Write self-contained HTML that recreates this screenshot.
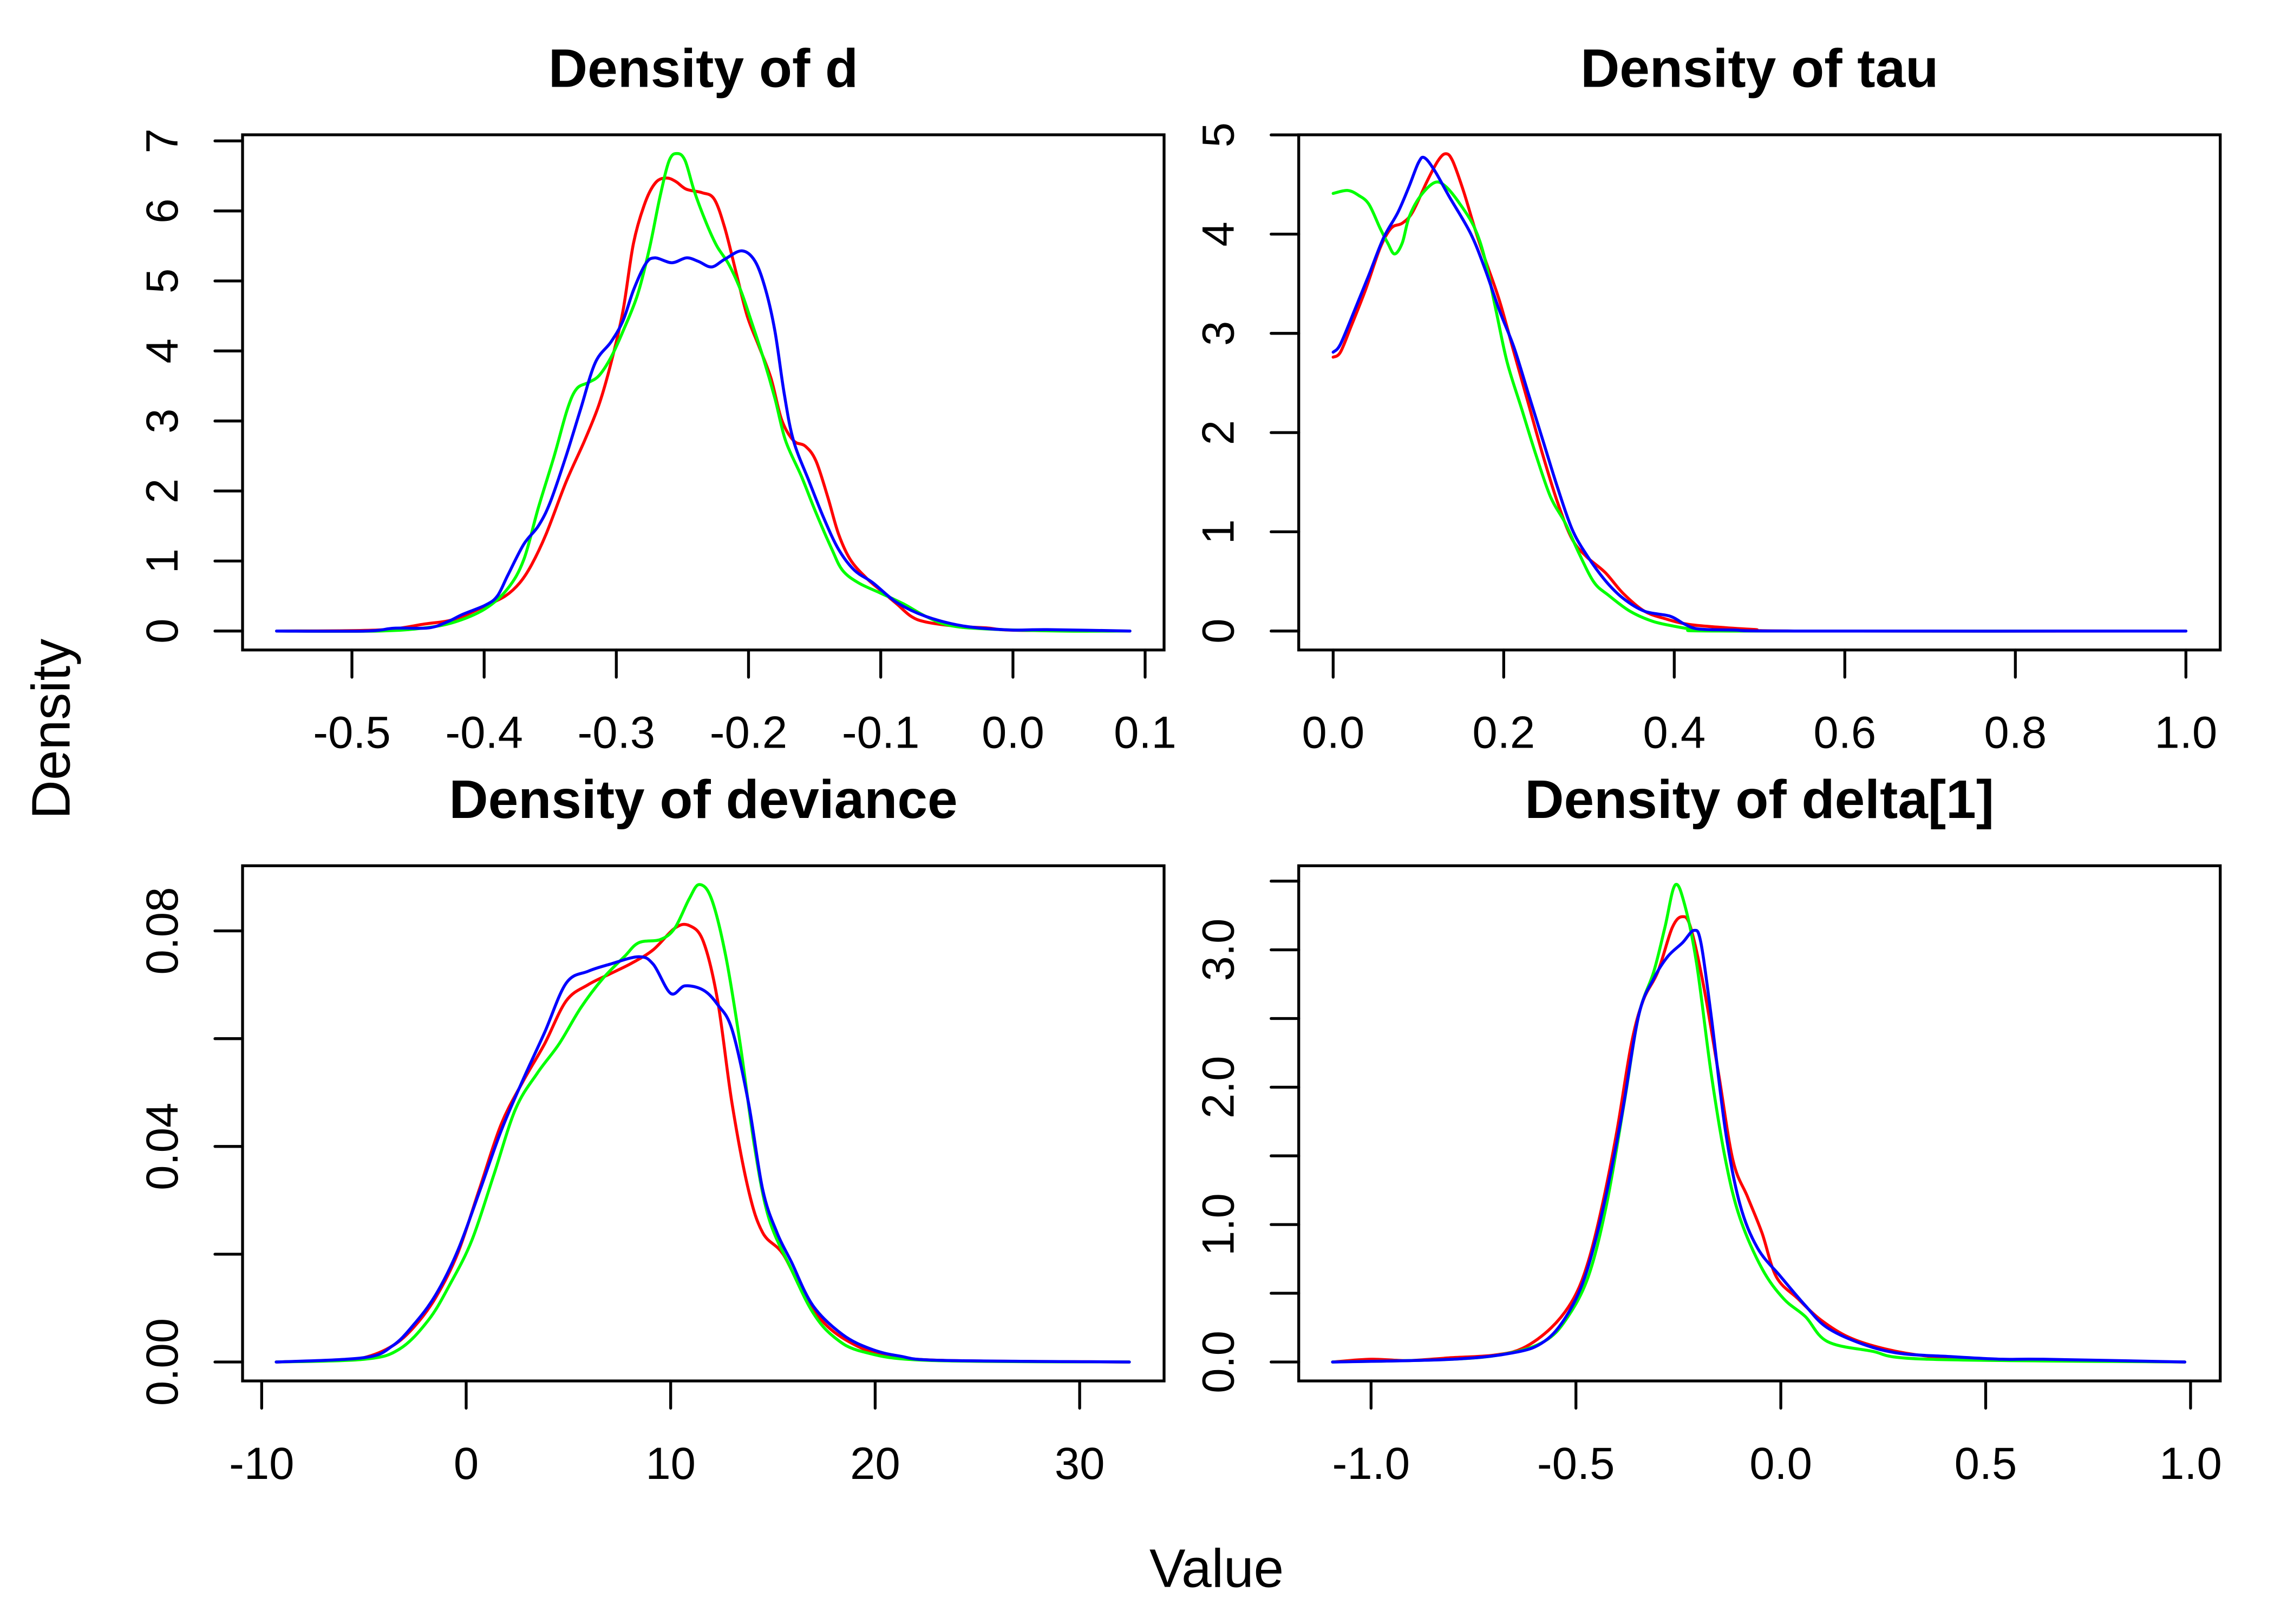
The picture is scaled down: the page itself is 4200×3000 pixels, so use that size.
<!DOCTYPE html>
<html>
<head>
<meta charset="utf-8">
<style>
html,body{margin:0;padding:0;background:#fff;}
svg{display:block;}
text{font-family:"Liberation Sans",Arial,sans-serif;fill:#000;}
.c{fill:none;stroke-width:5.5;stroke-linejoin:round;stroke-linecap:round;vector-effect:non-scaling-stroke;}
.r{stroke:#FF0000;}
.g{stroke:#00FF00;}
.b{stroke:#0000FF;}
.box{fill:none;stroke:#000;stroke-width:5.3;}
.tk{stroke:#000;stroke-width:5.3;stroke-linecap:round;}
.tl{font-size:83.3px;}
.ti{font-size:100px;font-weight:bold;}
.ol{font-size:100px;}
</style>
</head>
<body>
<svg width="4200" height="3000" viewBox="0 0 4200 3000" xmlns="http://www.w3.org/2000/svg">
<rect x="0" y="0" width="4200" height="3000" fill="#fff"/>

<!-- ========== Panel TL: Density of d ========== -->
<text class="ti" x="1299" y="160.7" text-anchor="middle">Density of d</text>
<g transform="matrix(2441.7 0 0 -129.34 1870.85 1165.7)">
<polyline class="c r" points="-0.557,0 -0.48,0.015 -0.445,0.1 -0.422,0.17 -0.399,0.36 -0.384,0.5 -0.373,0.69 -0.364,0.95 -0.353,1.39 -0.338,2.13 -0.324,2.72 -0.313,3.24 -0.304,3.83 -0.295,4.57 -0.287,5.54 -0.278,6.13 -0.270,6.41 -0.262,6.47 -0.255,6.42 -0.247,6.31 -0.235,6.26 -0.226,6.17 -0.218,5.76 -0.209,5.09 -0.201,4.5 -0.192,4.06 -0.183,3.61 -0.175,3.02 -0.166,2.72 -0.157,2.64 -0.149,2.43 -0.140,1.91 -0.132,1.39 -0.123,1.02 -0.111,0.76 -0.1,0.58 -0.088,0.39 -0.077,0.21 -0.066,0.13 -0.043,0.07 -0.02,0.045 0.003,0.01 0.0885,0"/>
<polyline class="c g" points="-0.557,0 -0.48,0 -0.445,0.045 -0.422,0.13 -0.399,0.32 -0.382,0.61 -0.370,1.02 -0.359,1.76 -0.347,2.5 -0.337,3.17 -0.330,3.46 -0.321,3.55 -0.313,3.65 -0.304,3.91 -0.295,4.28 -0.284,4.8 -0.275,5.46 -0.267,6.2 -0.260,6.72 -0.254,6.82 -0.248,6.72 -0.241,6.28 -0.232,5.83 -0.224,5.5 -0.215,5.24 -0.206,4.87 -0.198,4.43 -0.189,3.91 -0.180,3.32 -0.172,2.72 -0.160,2.21 -0.149,1.69 -0.137,1.17 -0.129,0.87 -0.117,0.69 -0.1,0.54 -0.083,0.39 -0.066,0.21 -0.048,0.08 -0.02,0.03 0.037,0 0.0885,0"/>
<polyline class="c b" points="-0.557,0 -0.49,0 -0.468,0.04 -0.442,0.045 -0.428,0.13 -0.416,0.24 -0.399,0.37 -0.390,0.5 -0.382,0.8 -0.370,1.24 -0.359,1.5 -0.350,1.84 -0.338,2.5 -0.327,3.17 -0.316,3.83 -0.304,4.13 -0.295,4.43 -0.287,4.87 -0.278,5.24 -0.271,5.33 -0.258,5.26 -0.247,5.33 -0.238,5.28 -0.228,5.2 -0.218,5.31 -0.205,5.43 -0.195,5.28 -0.187,4.87 -0.180,4.28 -0.173,3.39 -0.166,2.72 -0.154,2.13 -0.143,1.61 -0.132,1.17 -0.120,0.87 -0.106,0.69 -0.088,0.41 -0.066,0.21 -0.037,0.07 -0.002,0.015 0.026,0.02 0.0885,0"/>
</g>
<rect class="box" x="448" y="249" width="1702" height="951.7"/>
<g class="tk">
<line x1="650" y1="1200.7" x2="650" y2="1251"/>
<line x1="894.2" y1="1200.7" x2="894.2" y2="1251"/>
<line x1="1138.3" y1="1200.7" x2="1138.3" y2="1251"/>
<line x1="1382.5" y1="1200.7" x2="1382.5" y2="1251"/>
<line x1="1626.7" y1="1200.7" x2="1626.7" y2="1251"/>
<line x1="1870.9" y1="1200.7" x2="1870.9" y2="1251"/>
<line x1="2115" y1="1200.7" x2="2115" y2="1251"/>
<line x1="448" y1="1165.7" x2="397" y2="1165.7"/>
<line x1="448" y1="1036.4" x2="397" y2="1036.4"/>
<line x1="448" y1="907" x2="397" y2="907"/>
<line x1="448" y1="777.7" x2="397" y2="777.7"/>
<line x1="448" y1="648.3" x2="397" y2="648.3"/>
<line x1="448" y1="519" x2="397" y2="519"/>
<line x1="448" y1="389.7" x2="397" y2="389.7"/>
<line x1="448" y1="260.3" x2="397" y2="260.3"/>
</g>
<g class="tl" text-anchor="middle">
<text x="650" y="1381.7">-0.5</text>
<text x="894.2" y="1381.7">-0.4</text>
<text x="1138.3" y="1381.7">-0.3</text>
<text x="1382.5" y="1381.7">-0.2</text>
<text x="1626.7" y="1381.7">-0.1</text>
<text x="1870.9" y="1381.7">0.0</text>
<text x="2115" y="1381.7">0.1</text>
<text transform="translate(328 1165.7) rotate(-90)">0</text>
<text transform="translate(328 1036.4) rotate(-90)">1</text>
<text transform="translate(328 907) rotate(-90)">2</text>
<text transform="translate(328 777.7) rotate(-90)">3</text>
<text transform="translate(328 648.3) rotate(-90)">4</text>
<text transform="translate(328 519) rotate(-90)">5</text>
<text transform="translate(328 389.7) rotate(-90)">6</text>
<text transform="translate(328 260.3) rotate(-90)">7</text>
</g>

<!-- ========== Panel TR: Density of tau ========== -->
<text class="ti" x="3249.7" y="160.7" text-anchor="middle">Density of tau</text>
<g transform="matrix(1575 0 0 -183.3 2462.3 1165.7)">
<polyline class="c r" points="0,2.76 0.0085,2.81 0.021,3.07 0.038,3.44 0.055,3.86 0.068,4.06 0.081,4.11 0.093,4.22 0.110,4.53 0.123,4.74 0.132,4.81 0.140,4.74 0.153,4.43 0.166,4.06 0.178,3.75 0.195,3.33 0.212,2.81 0.229,2.29 0.246,1.77 0.263,1.3 0.280,0.93 0.297,0.75 0.319,0.59 0.340,0.38 0.365,0.2 0.391,0.12 0.416,0.068 0.45,0.04 0.493,0.016 0.55,0 1,0"/>
<polyline class="c g" points="0,4.41 0.017,4.44 0.030,4.39 0.042,4.3 0.055,4.06 0.064,3.91 0.072,3.8 0.081,3.91 0.089,4.17 0.102,4.38 0.119,4.52 0.132,4.48 0.149,4.3 0.166,4.06 0.178,3.75 0.191,3.23 0.204,2.71 0.221,2.24 0.238,1.77 0.255,1.35 0.272,1.09 0.289,0.77 0.306,0.49 0.323,0.36 0.348,0.2 0.374,0.1 0.399,0.05 0.425,0.016 0.47,0 1,0"/>
<polyline class="c b" points="0,2.81 0.0085,2.89 0.025,3.23 0.042,3.59 0.059,3.96 0.076,4.22 0.089,4.48 0.100,4.72 0.107,4.77 0.119,4.64 0.136,4.38 0.161,4.01 0.178,3.65 0.195,3.23 0.212,2.86 0.229,2.39 0.246,1.92 0.263,1.45 0.280,1.03 0.297,0.77 0.319,0.51 0.340,0.33 0.365,0.2 0.395,0.15 0.412,0.07 0.429,0.02 0.47,0.01 0.54,0 1,0"/>
</g>
<rect class="box" x="2398.7" y="249" width="1702" height="951.7"/>
<g class="tk">
<line x1="2462.3" y1="1200.7" x2="2462.3" y2="1251"/>
<line x1="2777.3" y1="1200.7" x2="2777.3" y2="1251"/>
<line x1="3092.3" y1="1200.7" x2="3092.3" y2="1251"/>
<line x1="3407.3" y1="1200.7" x2="3407.3" y2="1251"/>
<line x1="3722.3" y1="1200.7" x2="3722.3" y2="1251"/>
<line x1="4037.3" y1="1200.7" x2="4037.3" y2="1251"/>
<line x1="2398.7" y1="1165.7" x2="2347.7" y2="1165.7"/>
<line x1="2398.7" y1="982.4" x2="2347.7" y2="982.4"/>
<line x1="2398.7" y1="799.1" x2="2347.7" y2="799.1"/>
<line x1="2398.7" y1="615.8" x2="2347.7" y2="615.8"/>
<line x1="2398.7" y1="432.5" x2="2347.7" y2="432.5"/>
<line x1="2398.7" y1="249.2" x2="2347.7" y2="249.2"/>
</g>
<g class="tl" text-anchor="middle">
<text x="2462.3" y="1381.7">0.0</text>
<text x="2777.3" y="1381.7">0.2</text>
<text x="3092.3" y="1381.7">0.4</text>
<text x="3407.3" y="1381.7">0.6</text>
<text x="3722.3" y="1381.7">0.8</text>
<text x="4037.3" y="1381.7">1.0</text>
<text transform="translate(2278.7 1165.7) rotate(-90)">0</text>
<text transform="translate(2278.7 982.4) rotate(-90)">1</text>
<text transform="translate(2278.7 799.1) rotate(-90)">2</text>
<text transform="translate(2278.7 615.8) rotate(-90)">3</text>
<text transform="translate(2278.7 432.5) rotate(-90)">4</text>
<text transform="translate(2278.7 249.2) rotate(-90)">5</text>
</g>

<!-- ========== Panel BL: Density of deviance ========== -->
<text class="ti" x="1299" y="1511" text-anchor="middle">Density of deviance</text>
<g transform="matrix(37.77 0 0 -9955 861 2516)">
<polyline class="c r" points="-9.29,0 -6.45,0.0003 -5.0,0.0008 -3.6,0.003 -2.55,0.0065 -1.5,0.0119 -0.43,0.020 0.64,0.032 1.70,0.044 2.77,0.052 3.83,0.059 4.89,0.067 5.96,0.070 7.02,0.072 8.09,0.074 9.15,0.0765 10.2,0.0805 10.9,0.081 11.6,0.078 12.3,0.067 13.0,0.048 13.8,0.032 14.5,0.024 15.5,0.020 16.6,0.0119 17.7,0.0065 19.1,0.003 20.5,0.0013 23.3,0.0003 32.43,0"/>
<polyline class="c g" points="-9.29,0 -5.0,0.0005 -3.26,0.0024 -1.84,0.0078 -0.78,0.0145 0.28,0.0226 1.35,0.0347 2.41,0.0469 3.48,0.0536 4.54,0.059 5.60,0.0657 6.67,0.0711 7.73,0.0752 8.44,0.0778 9.5,0.0784 10.2,0.0805 10.9,0.0859 11.4,0.0886 12.0,0.0859 12.7,0.0752 13.4,0.059 14.1,0.040 14.8,0.0267 15.9,0.0172 16.95,0.0092 18.0,0.0046 19.4,0.0019 22.6,0.0003 32.43,0"/>
<polyline class="c b" points="-9.29,0 -5.0,0.0008 -3.6,0.003 -2.55,0.007 -1.5,0.0124 -0.43,0.0205 0.64,0.0315 1.70,0.0428 2.77,0.0523 3.83,0.0611 4.89,0.0703 5.96,0.0725 7.02,0.0738 8.44,0.0752 9.15,0.0738 10.0,0.0684 10.7,0.0698 11.6,0.069 12.3,0.0663 13.0,0.0617 13.8,0.0482 14.5,0.032 15.2,0.024 15.9,0.0186 16.95,0.0105 18.4,0.0051 19.8,0.0024 21.2,0.0011 23.3,0.0003 32.43,0"/>
</g>
<rect class="box" x="448" y="1599.3" width="1702" height="951.7"/>
<g class="tk">
<line x1="483.3" y1="2551" x2="483.3" y2="2601.3"/>
<line x1="861" y1="2551" x2="861" y2="2601.3"/>
<line x1="1238.7" y1="2551" x2="1238.7" y2="2601.3"/>
<line x1="1616.4" y1="2551" x2="1616.4" y2="2601.3"/>
<line x1="1994.1" y1="2551" x2="1994.1" y2="2601.3"/>
<line x1="448" y1="2516" x2="397" y2="2516"/>
<line x1="448" y1="2316.9" x2="397" y2="2316.9"/>
<line x1="448" y1="2117.8" x2="397" y2="2117.8"/>
<line x1="448" y1="1918.7" x2="397" y2="1918.7"/>
<line x1="448" y1="1719.6" x2="397" y2="1719.6"/>
</g>
<g class="tl" text-anchor="middle">
<text x="483.3" y="2732">-10</text>
<text x="861" y="2732">0</text>
<text x="1238.7" y="2732">10</text>
<text x="1616.4" y="2732">20</text>
<text x="1994.1" y="2732">30</text>
<text transform="translate(328 2516) rotate(-90)">0.00</text>
<text transform="translate(328 2117.8) rotate(-90)">0.04</text>
<text transform="translate(328 1719.6) rotate(-90)">0.08</text>
</g>

<!-- ========== Panel BR: Density of delta[1] ========== -->
<text class="ti" x="3249.7" y="1511" text-anchor="middle">Density of delta[1]</text>
<g transform="matrix(756.8 0 0 -253.9 3289.1 2516)">
<polyline class="c r" points="-1.094,0 -1.0,0.02 -0.91,0.01 -0.81,0.03 -0.70,0.05 -0.63,0.1 -0.56,0.25 -0.506,0.46 -0.47,0.73 -0.435,1.15 -0.40,1.68 -0.365,2.31 -0.336,2.63 -0.30,2.84 -0.265,3.16 -0.24,3.24 -0.22,3.16 -0.188,2.73 -0.152,2.1 -0.117,1.47 -0.081,1.2 -0.046,0.94 -0.011,0.62 0.042,0.46 0.096,0.31 0.166,0.18 0.255,0.095 0.36,0.042 0.50,0.02 0.68,0.01 0.986,0"/>
<polyline class="c g" points="-1.094,0 -0.8,0.02 -0.665,0.063 -0.577,0.15 -0.524,0.31 -0.47,0.62 -0.425,1.15 -0.382,1.89 -0.347,2.52 -0.31,2.84 -0.283,3.16 -0.258,3.47 -0.234,3.32 -0.205,2.89 -0.17,2.1 -0.135,1.47 -0.1,1.05 -0.046,0.68 0.007,0.46 0.06,0.33 0.113,0.15 0.22,0.08 0.36,0.02 0.986,0"/>
<polyline class="c b" points="-1.094,0 -0.8,0.02 -0.648,0.07 -0.577,0.15 -0.524,0.33 -0.478,0.62 -0.435,1.1 -0.389,1.78 -0.347,2.52 -0.31,2.79 -0.276,2.95 -0.24,3.05 -0.212,3.14 -0.195,3.05 -0.17,2.52 -0.135,1.68 -0.1,1.15 -0.057,0.83 0,0.62 0.06,0.41 0.113,0.25 0.2,0.13 0.29,0.063 0.41,0.04 0.54,0.02 0.64,0.02 0.986,0"/>
</g>
<rect class="box" x="2398.7" y="1599.3" width="1702" height="951.7"/>
<g class="tk">
<line x1="2532.3" y1="2551" x2="2532.3" y2="2601.3"/>
<line x1="2910.7" y1="2551" x2="2910.7" y2="2601.3"/>
<line x1="3289.1" y1="2551" x2="3289.1" y2="2601.3"/>
<line x1="3667.5" y1="2551" x2="3667.5" y2="2601.3"/>
<line x1="4045.9" y1="2551" x2="4045.9" y2="2601.3"/>
<line x1="2398.7" y1="2516" x2="2347.7" y2="2516"/>
<line x1="2398.7" y1="2389" x2="2347.7" y2="2389"/>
<line x1="2398.7" y1="2262.1" x2="2347.7" y2="2262.1"/>
<line x1="2398.7" y1="2135.2" x2="2347.7" y2="2135.2"/>
<line x1="2398.7" y1="2008.4" x2="2347.7" y2="2008.4"/>
<line x1="2398.7" y1="1881.5" x2="2347.7" y2="1881.5"/>
<line x1="2398.7" y1="1754.6" x2="2347.7" y2="1754.6"/>
<line x1="2398.7" y1="1627.7" x2="2347.7" y2="1627.7"/>
</g>
<g class="tl" text-anchor="middle">
<text x="2532.3" y="2732">-1.0</text>
<text x="2910.7" y="2732">-0.5</text>
<text x="3289.1" y="2732">0.0</text>
<text x="3667.5" y="2732">0.5</text>
<text x="4045.9" y="2732">1.0</text>
<text transform="translate(2278.7 2516) rotate(-90)">0.0</text>
<text transform="translate(2278.7 2262.1) rotate(-90)">1.0</text>
<text transform="translate(2278.7 2008.4) rotate(-90)">2.0</text>
<text transform="translate(2278.7 1754.6) rotate(-90)">3.0</text>
</g>

<!-- ========== Outer labels ========== -->
<text class="ol" text-anchor="middle" transform="translate(128.3 1346.5) rotate(-90)">Density</text>
<text class="ol" text-anchor="middle" x="2247" y="2931.7">Value</text>
</svg>
<script>
(function(){
  var NS="http://www.w3.org/2000/svg";
  var pls=document.querySelectorAll("polyline.c");
  for(var k=0;k<pls.length;k++){
    var pl=pls[k];
    var pts=pl.getAttribute("points").trim().split(/\s+/).map(function(s){return s.split(",").map(Number);});
    if(pts.length<3) continue;
    var d="M"+pts[0][0]+","+pts[0][1];
    for(var i=0;i<pts.length-1;i++){
      var p0=pts[i-1]||pts[i], p1=pts[i], p2=pts[i+1], p3=pts[i+2]||pts[i+1];
      var c1x=p1[0]+(p2[0]-p0[0])/6, c1y=p1[1]+(p2[1]-p0[1])/6;
      var c2x=p2[0]-(p3[0]-p1[0])/6, c2y=p2[1]-(p3[1]-p1[1])/6;
      d+=" C"+c1x+","+c1y+" "+c2x+","+c2y+" "+p2[0]+","+p2[1];
    }
    var path=document.createElementNS(NS,"path");
    path.setAttribute("d",d);
    path.setAttribute("class",pl.getAttribute("class"));
    pl.parentNode.replaceChild(path,pl);
  }
})();
</script>
</body>
</html>
